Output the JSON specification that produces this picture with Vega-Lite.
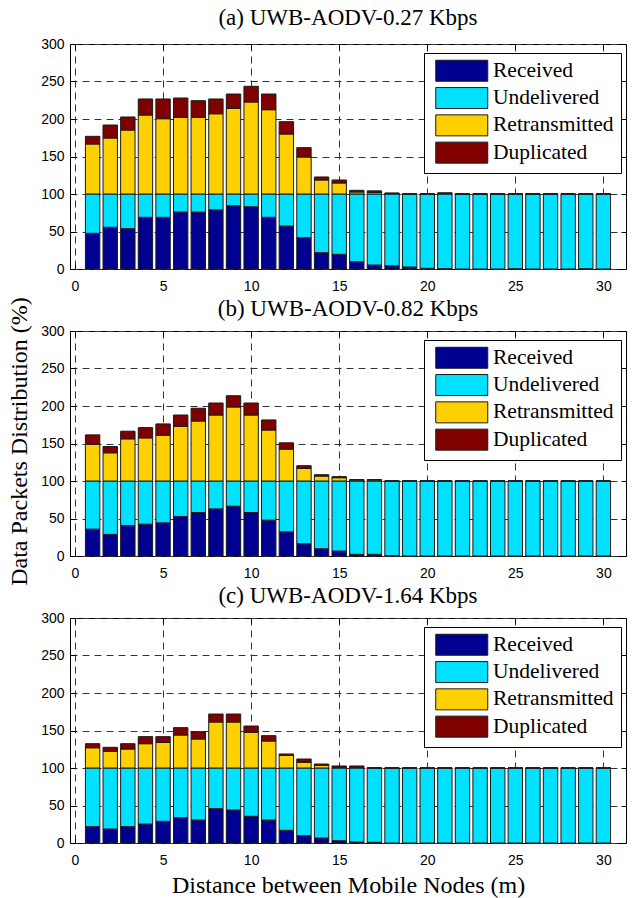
{
  "$schema": "https://vega.github.io/schema/vega-lite/v6.json",
  "background": "white",
  "padding": {"left": 7, "top": 6, "right": 1, "bottom": 3},
  "bounds": "flush",
  "spacing": 62,
  "datasets": {
    "stackOrder": [
      {"category": "Received", "rank": 1},
      {"category": "Undelivered", "rank": 2},
      {"category": "Retransmitted", "rank": 3},
      {"category": "Duplicated", "rank": 4}
    ],
    "a": [
      {"d": 1, "Received": 47.6, "Undelivered": 52.4, "Retransmitted": 66.7, "Duplicated": 10.2},
      {"d": 2, "Received": 55.6, "Undelivered": 44.4, "Retransmitted": 74.7, "Duplicated": 17.3},
      {"d": 3, "Received": 53.8, "Undelivered": 46.2, "Retransmitted": 85.3, "Duplicated": 17.4},
      {"d": 4, "Received": 68.9, "Undelivered": 31.1, "Retransmitted": 105.3, "Duplicated": 21.4},
      {"d": 5, "Received": 68.9, "Undelivered": 31.1, "Retransmitted": 100.4, "Duplicated": 26.3},
      {"d": 6, "Received": 76.0, "Undelivered": 24.0, "Retransmitted": 102.2, "Duplicated": 25.8},
      {"d": 7, "Received": 76.0, "Undelivered": 24.0, "Retransmitted": 102.2, "Duplicated": 22.2},
      {"d": 8, "Received": 79.0, "Undelivered": 21.0, "Retransmitted": 107.0, "Duplicated": 19.7},
      {"d": 9, "Received": 84.4, "Undelivered": 15.6, "Retransmitted": 114.0, "Duplicated": 19.3},
      {"d": 10, "Received": 83.0, "Undelivered": 17.0, "Retransmitted": 122.7, "Duplicated": 20.9},
      {"d": 11, "Received": 68.9, "Undelivered": 31.1, "Retransmitted": 112.4, "Duplicated": 20.9},
      {"d": 12, "Received": 57.3, "Undelivered": 42.7, "Retransmitted": 80.0, "Duplicated": 16.4},
      {"d": 13, "Received": 41.8, "Undelivered": 58.2, "Retransmitted": 49.3, "Duplicated": 12.5},
      {"d": 14, "Received": 21.8, "Undelivered": 78.2, "Retransmitted": 18.7, "Duplicated": 4.0},
      {"d": 15, "Received": 19.6, "Undelivered": 80.4, "Retransmitted": 14.7, "Duplicated": 4.0},
      {"d": 16, "Received": 9.8, "Undelivered": 90.2, "Retransmitted": 2.7, "Duplicated": 2.2},
      {"d": 17, "Received": 5.3, "Undelivered": 94.7, "Retransmitted": 2.2, "Duplicated": 2.0},
      {"d": 18, "Received": 4.4, "Undelivered": 95.6, "Retransmitted": 0.8, "Duplicated": 0.5},
      {"d": 19, "Received": 2.7, "Undelivered": 97.3, "Retransmitted": 0, "Duplicated": 0},
      {"d": 20, "Received": 0.9, "Undelivered": 99.1, "Retransmitted": 0, "Duplicated": 0},
      {"d": 21, "Received": 0.5, "Undelivered": 99.5, "Retransmitted": 0.8, "Duplicated": 0.8},
      {"d": 22, "Received": 0, "Undelivered": 100, "Retransmitted": 0, "Duplicated": 0},
      {"d": 23, "Received": 0, "Undelivered": 100, "Retransmitted": 0, "Duplicated": 0},
      {"d": 24, "Received": 0, "Undelivered": 100, "Retransmitted": 0, "Duplicated": 0},
      {"d": 25, "Received": 0.4, "Undelivered": 99.6, "Retransmitted": 0, "Duplicated": 0},
      {"d": 26, "Received": 0, "Undelivered": 100, "Retransmitted": 0, "Duplicated": 0},
      {"d": 27, "Received": 0, "Undelivered": 100, "Retransmitted": 0, "Duplicated": 0},
      {"d": 28, "Received": 0, "Undelivered": 100, "Retransmitted": 0, "Duplicated": 0},
      {"d": 29, "Received": 0.4, "Undelivered": 99.6, "Retransmitted": 0, "Duplicated": 0},
      {"d": 30, "Received": 0, "Undelivered": 100, "Retransmitted": 0, "Duplicated": 0}
    ],
    "b": [
      {"d": 1, "Received": 35.8, "Undelivered": 64.2, "Retransmitted": 49.0, "Duplicated": 12.5},
      {"d": 2, "Received": 28.8, "Undelivered": 71.2, "Retransmitted": 37.6, "Duplicated": 8.4},
      {"d": 3, "Received": 40.7, "Undelivered": 59.3, "Retransmitted": 56.2, "Duplicated": 10.2},
      {"d": 4, "Received": 42.5, "Undelivered": 57.5, "Retransmitted": 57.5, "Duplicated": 13.7},
      {"d": 5, "Received": 44.2, "Undelivered": 55.8, "Retransmitted": 61.0, "Duplicated": 15.1},
      {"d": 6, "Received": 52.7, "Undelivered": 47.3, "Retransmitted": 73.0, "Duplicated": 15.0},
      {"d": 7, "Received": 58.0, "Undelivered": 42.0, "Retransmitted": 80.0, "Duplicated": 17.0},
      {"d": 8, "Received": 62.8, "Undelivered": 37.2, "Retransmitted": 88.0, "Duplicated": 16.0},
      {"d": 9, "Received": 66.4, "Undelivered": 33.6, "Retransmitted": 98.7, "Duplicated": 15.0},
      {"d": 10, "Received": 58.0, "Undelivered": 42.0, "Retransmitted": 88.0, "Duplicated": 16.0},
      {"d": 11, "Received": 47.8, "Undelivered": 52.2, "Retransmitted": 68.0, "Duplicated": 13.4},
      {"d": 12, "Received": 32.3, "Undelivered": 67.7, "Retransmitted": 42.5, "Duplicated": 8.4},
      {"d": 13, "Received": 16.4, "Undelivered": 83.6, "Retransmitted": 16.8, "Duplicated": 3.6},
      {"d": 14, "Received": 9.7, "Undelivered": 90.3, "Retransmitted": 6.6, "Duplicated": 1.8},
      {"d": 15, "Received": 6.6, "Undelivered": 93.4, "Retransmitted": 4.4, "Duplicated": 1.4},
      {"d": 16, "Received": 2.2, "Undelivered": 97.8, "Retransmitted": 1.3, "Duplicated": 0.5},
      {"d": 17, "Received": 2.2, "Undelivered": 97.8, "Retransmitted": 1.3, "Duplicated": 0.5},
      {"d": 18, "Received": 0.5, "Undelivered": 99.5, "Retransmitted": 0, "Duplicated": 0},
      {"d": 19, "Received": 0, "Undelivered": 100, "Retransmitted": 0, "Duplicated": 0},
      {"d": 20, "Received": 0, "Undelivered": 100, "Retransmitted": 0, "Duplicated": 0},
      {"d": 21, "Received": 0, "Undelivered": 100, "Retransmitted": 0, "Duplicated": 0},
      {"d": 22, "Received": 0, "Undelivered": 100, "Retransmitted": 0, "Duplicated": 0},
      {"d": 23, "Received": 0, "Undelivered": 100, "Retransmitted": 0, "Duplicated": 0},
      {"d": 24, "Received": 0, "Undelivered": 100, "Retransmitted": 0, "Duplicated": 0},
      {"d": 25, "Received": 0, "Undelivered": 100, "Retransmitted": 0, "Duplicated": 0},
      {"d": 26, "Received": 0, "Undelivered": 100, "Retransmitted": 0, "Duplicated": 0},
      {"d": 27, "Received": 0, "Undelivered": 100, "Retransmitted": 0, "Duplicated": 0},
      {"d": 28, "Received": 0, "Undelivered": 100, "Retransmitted": 0, "Duplicated": 0},
      {"d": 29, "Received": 0, "Undelivered": 100, "Retransmitted": 0, "Duplicated": 0},
      {"d": 30, "Received": 0, "Undelivered": 100, "Retransmitted": 0, "Duplicated": 0}
    ],
    "c": [
      {"d": 1, "Received": 21.8, "Undelivered": 78.2, "Retransmitted": 27.0, "Duplicated": 5.4},
      {"d": 2, "Received": 18.7, "Undelivered": 81.3, "Retransmitted": 22.2, "Duplicated": 5.4},
      {"d": 3, "Received": 21.8, "Undelivered": 78.2, "Retransmitted": 25.3, "Duplicated": 7.1},
      {"d": 4, "Received": 25.3, "Undelivered": 74.7, "Retransmitted": 32.4, "Duplicated": 9.4},
      {"d": 5, "Received": 28.9, "Undelivered": 71.1, "Retransmitted": 34.2, "Duplicated": 7.6},
      {"d": 6, "Received": 33.8, "Undelivered": 66.2, "Retransmitted": 44.0, "Duplicated": 9.8},
      {"d": 7, "Received": 30.7, "Undelivered": 69.3, "Retransmitted": 38.7, "Duplicated": 9.7},
      {"d": 8, "Received": 45.8, "Undelivered": 54.2, "Retransmitted": 61.3, "Duplicated": 10.7},
      {"d": 9, "Received": 44.0, "Undelivered": 56.0, "Retransmitted": 61.3, "Duplicated": 10.7},
      {"d": 10, "Received": 35.6, "Undelivered": 64.4, "Retransmitted": 47.6, "Duplicated": 8.4},
      {"d": 11, "Received": 30.7, "Undelivered": 69.3, "Retransmitted": 36.0, "Duplicated": 7.1},
      {"d": 12, "Received": 16.9, "Undelivered": 83.1, "Retransmitted": 16.9, "Duplicated": 1.8},
      {"d": 13, "Received": 9.8, "Undelivered": 90.2, "Retransmitted": 7.6, "Duplicated": 4.4},
      {"d": 14, "Received": 6.7, "Undelivered": 93.3, "Retransmitted": 3.6, "Duplicated": 1.7},
      {"d": 15, "Received": 3.1, "Undelivered": 96.9, "Retransmitted": 0.9, "Duplicated": 1.8},
      {"d": 16, "Received": 1.3, "Undelivered": 98.7, "Retransmitted": 0.9, "Duplicated": 1.8},
      {"d": 17, "Received": 0.9, "Undelivered": 99.1, "Retransmitted": 0, "Duplicated": 0},
      {"d": 18, "Received": 0, "Undelivered": 100, "Retransmitted": 0, "Duplicated": 0},
      {"d": 19, "Received": 0, "Undelivered": 100, "Retransmitted": 0, "Duplicated": 0},
      {"d": 20, "Received": 0, "Undelivered": 100, "Retransmitted": 0, "Duplicated": 0},
      {"d": 21, "Received": 0, "Undelivered": 100, "Retransmitted": 0, "Duplicated": 0},
      {"d": 22, "Received": 0, "Undelivered": 100, "Retransmitted": 0, "Duplicated": 0},
      {"d": 23, "Received": 0, "Undelivered": 100, "Retransmitted": 0, "Duplicated": 0},
      {"d": 24, "Received": 0, "Undelivered": 100, "Retransmitted": 0, "Duplicated": 0},
      {"d": 25, "Received": 0, "Undelivered": 100, "Retransmitted": 0, "Duplicated": 0},
      {"d": 26, "Received": 0, "Undelivered": 100, "Retransmitted": 0, "Duplicated": 0},
      {"d": 27, "Received": 0, "Undelivered": 100, "Retransmitted": 0, "Duplicated": 0},
      {"d": 28, "Received": 0, "Undelivered": 100, "Retransmitted": 0, "Duplicated": 0},
      {"d": 29, "Received": 0, "Undelivered": 100, "Retransmitted": 0, "Duplicated": 0},
      {"d": 30, "Received": 0, "Undelivered": 100, "Retransmitted": 0, "Duplicated": 0}
    ]
  },
  "vconcat": [
    {
      "data": {"name": "a"},
      "title": {"text": "(a) UWB-AODV-0.27 Kbps", "frame": "group", "offset": 7},
      "width": 556,
      "height": 225,
      "transform": [
        {"fold": ["Received", "Undelivered", "Retransmitted", "Duplicated"], "as": ["category", "value"]},
        {"lookup": "category", "from": {"data": {"name": "stackOrder"}, "key": "category", "fields": ["rank"]}}
      ],
      "layer": [
        {
          "mark": {"type": "bar", "width": 14.4, "stroke": "#1a1a1a", "strokeWidth": 1},
          "encoding": {
            "x": {"field": "d", "type": "quantitative", "scale": {"domain": [0, 31], "nice": false}, "axis": {"title": null, "values": [0, 5, 10, 15, 20, 25, 30], "labelPadding": 15}},
            "y": {"field": "value", "type": "quantitative", "stack": "zero", "scale": {"domain": [0, 300], "nice": false}, "axis": {"title": "Data Packets Distribution (%)", "titleY": 397, "titlePadding": 9, "values": [0, 50, 100, 150, 200, 250, 300], "labelPadding": 11}},
            "color": {"field": "category", "type": "nominal", "scale": {"domain": ["Received", "Undelivered", "Retransmitted", "Duplicated"], "range": ["#000090", "#00E0FF", "#FFD000", "#800000"]}, "legend": {"orient": "none", "legendX": 354, "legendY": 9}},
            "order": {"field": "rank", "type": "quantitative", "sort": "ascending"}
          }
        },
        {
          "mark": {"type": "point", "opacity": 0},
          "encoding": {
            "x": {"field": "d", "type": "quantitative", "scale": {"domain": [0, 31], "nice": false}, "axis": {"orient": "top", "title": null, "labels": false, "grid": false, "values": [0, 5, 10, 15, 20, 25, 30]}},
            "y": {"field": "value", "type": "quantitative", "scale": {"domain": [0, 300], "nice": false}, "axis": {"orient": "right", "title": null, "labels": false, "grid": false, "values": [0, 50, 100, 150, 200, 250, 300]}}
          }
        }
      ],
      "resolve": {"axis": {"x": "independent", "y": "independent"}}
    },
    {
      "data": {"name": "b"},
      "title": {"text": "(b) UWB-AODV-0.82 Kbps", "frame": "group", "offset": 3},
      "width": 556,
      "height": 225,
      "transform": [
        {"fold": ["Received", "Undelivered", "Retransmitted", "Duplicated"], "as": ["category", "value"]},
        {"lookup": "category", "from": {"data": {"name": "stackOrder"}, "key": "category", "fields": ["rank"]}}
      ],
      "layer": [
        {
          "mark": {"type": "bar", "width": 14.4, "stroke": "#1a1a1a", "strokeWidth": 1},
          "encoding": {
            "x": {"field": "d", "type": "quantitative", "scale": {"domain": [0, 31], "nice": false}, "axis": {"title": null, "values": [0, 5, 10, 15, 20, 25, 30], "labelPadding": 15}},
            "y": {"field": "value", "type": "quantitative", "stack": "zero", "scale": {"domain": [0, 300], "nice": false}, "axis": {"title": null, "values": [0, 50, 100, 150, 200, 250, 300], "labelPadding": 11}},
            "color": {"field": "category", "type": "nominal", "scale": {"domain": ["Received", "Undelivered", "Retransmitted", "Duplicated"], "range": ["#000090", "#00E0FF", "#FFD000", "#800000"]}, "legend": {"orient": "none", "legendX": 354, "legendY": 9}},
            "order": {"field": "rank", "type": "quantitative", "sort": "ascending"}
          }
        },
        {
          "mark": {"type": "point", "opacity": 0},
          "encoding": {
            "x": {"field": "d", "type": "quantitative", "scale": {"domain": [0, 31], "nice": false}, "axis": {"orient": "top", "title": null, "labels": false, "grid": false, "values": [0, 5, 10, 15, 20, 25, 30]}},
            "y": {"field": "value", "type": "quantitative", "scale": {"domain": [0, 300], "nice": false}, "axis": {"orient": "right", "title": null, "labels": false, "grid": false, "values": [0, 50, 100, 150, 200, 250, 300]}}
          }
        }
      ],
      "resolve": {"axis": {"x": "independent", "y": "independent"}}
    },
    {
      "data": {"name": "c"},
      "title": {"text": "(c) UWB-AODV-1.64 Kbps", "frame": "group", "offset": 3},
      "width": 556,
      "height": 225,
      "transform": [
        {"fold": ["Received", "Undelivered", "Retransmitted", "Duplicated"], "as": ["category", "value"]},
        {"lookup": "category", "from": {"data": {"name": "stackOrder"}, "key": "category", "fields": ["rank"]}}
      ],
      "layer": [
        {
          "mark": {"type": "bar", "width": 14.4, "stroke": "#1a1a1a", "strokeWidth": 1},
          "encoding": {
            "x": {"field": "d", "type": "quantitative", "scale": {"domain": [0, 31], "nice": false}, "axis": {"title": "Distance between Mobile Nodes (m)", "titlePadding": 6, "values": [0, 5, 10, 15, 20, 25, 30], "labelPadding": 15}},
            "y": {"field": "value", "type": "quantitative", "stack": "zero", "scale": {"domain": [0, 300], "nice": false}, "axis": {"title": null, "values": [0, 50, 100, 150, 200, 250, 300], "labelPadding": 11}},
            "color": {"field": "category", "type": "nominal", "scale": {"domain": ["Received", "Undelivered", "Retransmitted", "Duplicated"], "range": ["#000090", "#00E0FF", "#FFD000", "#800000"]}, "legend": {"orient": "none", "legendX": 354, "legendY": 9}},
            "order": {"field": "rank", "type": "quantitative", "sort": "ascending"}
          }
        },
        {
          "mark": {"type": "point", "opacity": 0},
          "encoding": {
            "x": {"field": "d", "type": "quantitative", "scale": {"domain": [0, 31], "nice": false}, "axis": {"orient": "top", "title": null, "labels": false, "grid": false, "values": [0, 5, 10, 15, 20, 25, 30]}},
            "y": {"field": "value", "type": "quantitative", "scale": {"domain": [0, 300], "nice": false}, "axis": {"orient": "right", "title": null, "labels": false, "grid": false, "values": [0, 50, 100, 150, 200, 250, 300]}}
          }
        }
      ],
      "resolve": {"axis": {"x": "independent", "y": "independent"}}
    }
  ],
  "resolve": {"scale": {"color": "independent"}, "legend": {"color": "independent"}},
  "config": {
    "view": {"stroke": "black", "strokeWidth": 1},
    "axis": {
      "domain": false,
      "grid": true,
      "gridColor": "#333333",
      "gridDash": [7, 5],
      "gridWidth": 1,
      "ticks": true,
      "tickColor": "black",
      "tickSize": -5,
      "labelFont": "Liberation Sans",
      "labelFontSize": 14,
      "labelColor": "black",
      "titleFont": "Liberation Serif",
      "titleFontSize": 24,
      "titleFontWeight": "normal",
      "titleColor": "black"
    },
    "title": {"font": "Liberation Serif", "fontSize": 23, "fontWeight": "normal", "color": "black"},
    "legend": {
      "title": null,
      "symbolType": "M-0.6,-1.05H4.6V1.05H-0.6Z",
      "symbolSize": 400,
      "symbolStrokeColor": "#1a1a1a",
      "symbolStrokeWidth": 1,
      "symbolOpacity": 1,
      "labelFont": "Liberation Serif",
      "labelFontSize": 21.5,
      "labelColor": "black",
      "labelOffset": 40.5,
      "labelLimit": 0,
      "rowPadding": 1.3,
      "padding": 7,
      "fillColor": "white",
      "strokeColor": "black"
    }
  }
}
